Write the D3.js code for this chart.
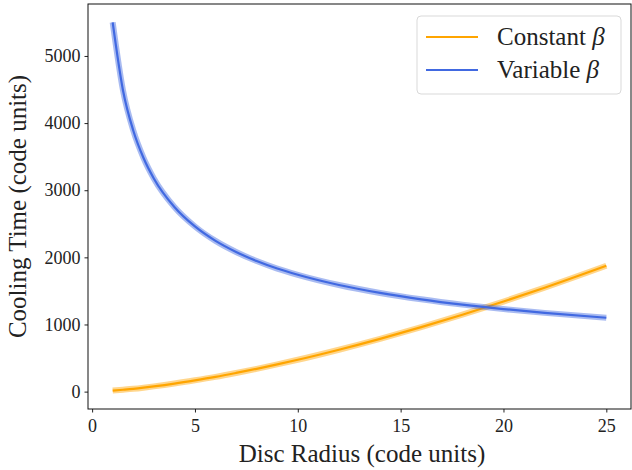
<!DOCTYPE html>
<html>
<head>
<meta charset="utf-8">
<script src="https://cdn.jsdelivr.net/npm/d3@7"></script>
<style>
  body { margin: 0; background: #fff; }
  text { font-family: "Liberation Serif", "DejaVu Serif", serif; fill: #222; }
</style>
</head>
<body>
<svg id="chart" width="632" height="470"></svg>
<script>
// values
const radius = [1, 1.5, 2, 2.5, 3, 4, 5, 6, 7, 8, 9, 10, 12, 14, 16, 18, 20, 22, 25];
const constantBeta = [15, 28, 42, 59, 78, 120, 168, 220, 278, 339, 405, 474, 624, 786, 960, 1146, 1342, 1548, 1875];
const variableBeta = [5500, 4490, 3890, 3480, 3175, 2750, 2460, 2245, 2080, 1945, 1833, 1740, 1588, 1470, 1375, 1296, 1230, 1173, 1100];
const xTicks = [0, 5, 10, 15, 20, 25];
const yTicks = [0, 1000, 2000, 3000, 4000, 5000];
const seriesNames = ["Constant", "Variable"];
const seriesColors = ["#FFA500", "#4169E1"];

const svg = d3.select("#chart");
const box = { left: 88, right: 631, top: 4, bottom: 409 };

const x = d3.scaleLinear().domain([-0.2, 26.2]).range([box.left, box.right]);
const y = d3.scaleLinear().domain([-259, 5774]).range([box.bottom, box.top]);

// lines: a soft wide band under a thinner core
const line = d3.line().x((d, i) => x(radius[i])).y(d => y(d)).curve(d3.curveMonotoneX);
[constantBeta, variableBeta].forEach((vals, k) => {
  svg.append("path").attr("d", line(vals)).attr("fill", "none")
    .attr("stroke", seriesColors[k]).attr("stroke-opacity", 0.45).attr("stroke-width", 6);
  svg.append("path").attr("d", line(vals)).attr("fill", "none")
    .attr("stroke", seriesColors[k]).attr("stroke-width", 2.2);
});

// axes
const xAxis = svg.append("g").attr("transform", `translate(0,${box.bottom})`)
  .call(d3.axisBottom(x).tickValues(xTicks).tickFormat(d3.format("d")).tickSize(3.5).tickPadding(4));
const yAxis = svg.append("g").attr("transform", `translate(${box.left},0)`)
  .call(d3.axisLeft(y).tickValues(yTicks).tickFormat(d3.format("d")).tickSize(3.5).tickPadding(4));
[xAxis, yAxis].forEach(a => {
  a.select(".domain").remove();
  a.selectAll("text").style("font-size", "18px").attr("fill", "#222");
  a.selectAll("line").attr("stroke", "#222");
});
xAxis.selectAll("text").attr("dy", "0.85em");

// frame
svg.append("rect").attr("x", box.left).attr("y", box.top)
  .attr("width", box.right - box.left).attr("height", box.bottom - box.top)
  .attr("fill", "none").attr("stroke", "#111").attr("stroke-width", 1);

// axis labels
svg.append("text").attr("x", 362).attr("y", 462)
  .attr("text-anchor", "middle").style("font-size", "25px").text("Disc Radius (code units)");
svg.append("text").attr("transform", `translate(26,${(box.top + box.bottom) / 2}) rotate(-90)`)
  .attr("text-anchor", "middle").style("font-size", "25px").text("Cooling Time (code units)");

// legend
const legend = svg.append("g");
legend.append("rect").attr("x", 417).attr("y", 16).attr("width", 204).attr("height", 78)
  .attr("rx", 4).attr("fill", "#fff").attr("fill-opacity", 0.8).attr("stroke", "#d9d9d9");
seriesNames.forEach((name, i) => {
  const cy = 37 + i * 33;
  legend.append("line").attr("x1", 426).attr("x2", 478).attr("y1", cy).attr("y2", cy)
    .attr("stroke", seriesColors[i]).attr("stroke-width", 2);
  const t = legend.append("text").attr("x", 497).attr("y", cy + 8).style("font-size", "25px");
  t.append("tspan").text(name + " ");
  t.append("tspan").style("font-style", "italic").text("β");
});
</script>
</body>
</html>
